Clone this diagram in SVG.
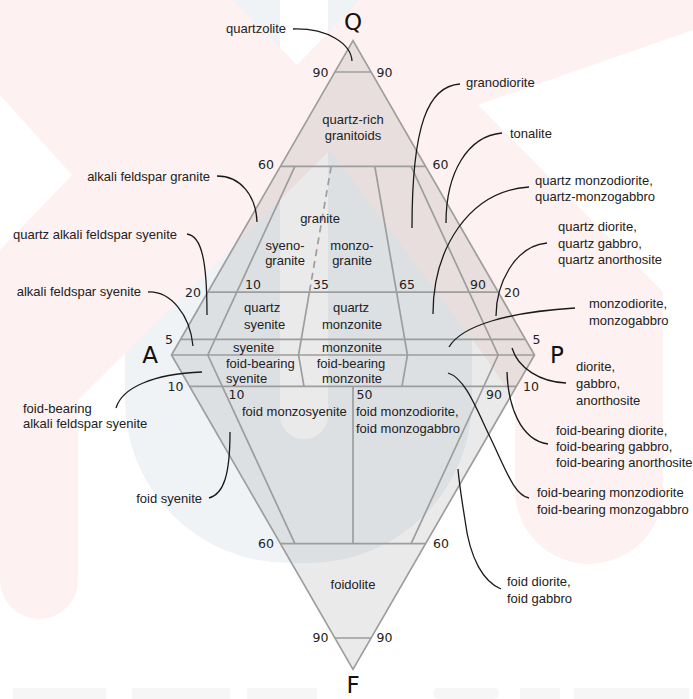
<svg xmlns="http://www.w3.org/2000/svg" width="693" height="699" viewBox="0 0 693 699">
<style>
.ln{fill:none;stroke:#9d9d9d;stroke-width:1.7}
.dash{stroke-dasharray:7 5}
.ld{fill:none;stroke:#1a1a1a;stroke-width:1.3}
.t{font-family:"Liberation Sans",Arial,sans-serif;font-size:13px;fill:#222}
.n{font-family:"DejaVu Sans",sans-serif;font-size:12.5px;fill:#222}
.c{font-family:"DejaVu Sans",sans-serif;font-size:23px;fill:#111}
.m{text-anchor:middle}
.e{text-anchor:end}
</style>
<g id="background">
<rect width="693" height="699" fill="#ffffff"/>
<path d="M125,0 H472 V400 A163,163 0 0 1 309,563 H288 A163,163 0 0 1 125,400 Z M280,0 V415 A24,24 0 0 0 328,415 V0 Z" fill-rule="evenodd" fill="#eff3f6"/>
<path d="M0,0 H233 L297,65 L360,0 H693 V30 L478,105 L663,292 V490 A74,74 0 0 1 515,490 V400 L480,350 L330,150 L78,400 V580 A39,39 0 0 1 0,580 V250 L72,175 L0,95 Z" fill="#fdf1f1"/>
<g fill="#f6f6f6">
<rect x="13" y="688" width="93" height="11"/>
<rect x="132" y="688" width="98" height="11"/>
<rect x="247" y="688" width="70" height="11"/>
<rect x="433" y="688" width="66" height="11" rx="5"/>
<rect x="520" y="688" width="40" height="11"/>
<rect x="574" y="688" width="115" height="11"/>
</g>
</g>
<g id="diagram">
<path d="M353,40.6 L534.5,355 L353,669.4 L171.5,355 Z" fill="#7f7f7f" fill-opacity="0.16" stroke="none"/>
<path class="ln" d="M353,40.6 L534.5,355 L353,669.4 L171.5,355 Z"/>
<path class="ln" d="M334.85,72 H371.15 M280.4,166.4 H425.6 M207.8,292.1 H498.2 M180.6,339.3 H525.4 M171.5,355 H534.5 M189.65,386.4 H516.35 M280.4,543.6 H425.6 M334.85,638 H371.15"/>
<path class="ln" d="M294.9,166.4 L207.8,355 L294.9,543.6 M309.4,292.1 L298.55,355 L304,386.4 M374.8,166.4 L407.45,355 L402,386.4 M411.1,166.4 L498.2,355 L411.1,543.6 M353,386.4 V543.6"/>
<path class="ln dash" d="M331.2,166.4 L309.4,292.1"/>
</g>
<g id="corners">
<text class="c m" x="353" y="30">Q</text>
<text class="c m" x="150" y="363">A</text>
<text class="c m" x="557" y="363">P</text>
<text class="c m" x="353" y="693">F</text>
</g>
<g id="scale">
<text class="n e" x="328.5" y="77">90</text>
<text class="n" x="376.5" y="77">90</text>
<text class="n e" x="274" y="169">60</text>
<text class="n" x="432.5" y="169">60</text>
<text class="n e" x="201" y="297">20</text>
<text class="n" x="504" y="297">20</text>
<text class="n e" x="173" y="344">5</text>
<text class="n" x="532.5" y="344">5</text>
<text class="n" x="245" y="289">10</text>
<text class="n" x="313" y="289">35</text>
<text class="n" x="399" y="289">65</text>
<text class="n" x="470" y="289">90</text>
<text class="n e" x="183.5" y="391">10</text>
<text class="n" x="523" y="391">10</text>
<text class="n" x="228.5" y="398.5">10</text>
<text class="n" x="356.5" y="398.5">50</text>
<text class="n" x="486" y="399">90</text>
<text class="n e" x="274" y="548">60</text>
<text class="n" x="433" y="548">60</text>
<text class="n e" x="328.5" y="642">90</text>
<text class="n" x="376.5" y="642">90</text>
</g>
<g id="fields">
<text class="t m" x="353" y="123.5">quartz-rich</text>
<text class="t m" x="353" y="139.5">granitoids</text>
<text class="t m" x="320" y="223">granite</text>
<text class="t m" x="285" y="249.5">syeno-</text>
<text class="t m" x="285" y="264.5">granite</text>
<text class="t m" x="352" y="249.5">monzo-</text>
<text class="t m" x="352" y="264.5">granite</text>
<text class="t" x="244" y="311.5">quartz</text>
<text class="t" x="244" y="328.5">syenite</text>
<text class="t m" x="351" y="311.5">quartz</text>
<text class="t m" x="352" y="328.5">monzonite</text>
<text class="t" x="233" y="352">syenite</text>
<text class="t m" x="352" y="352">monzonite</text>
<text class="t" x="226" y="368">foid-bearing</text>
<text class="t" x="226" y="383">syenite</text>
<text class="t m" x="351" y="368">foid-bearing</text>
<text class="t m" x="352" y="383">monzonite</text>
<text class="t" x="242" y="416">foid monzosyenite</text>
<text class="t" x="356" y="416">foid monzodiorite,</text>
<text class="t" x="356" y="433">foid monzogabbro</text>
<text class="t m" x="353" y="588.5">foidolite</text>
</g>
<g id="labels">
<text class="t e" x="286" y="33">quartzolite</text>
<text class="t" x="466" y="87">granodiorite</text>
<text class="t" x="510" y="137.5">tonalite</text>
<text class="t" x="535" y="184.5">quartz monzodiorite,</text>
<text class="t" x="535" y="201">quartz-monzogabbro</text>
<text class="t" x="558" y="231">quartz diorite,</text>
<text class="t" x="558" y="248">quartz gabbro,</text>
<text class="t" x="558" y="264">quartz anorthosite</text>
<text class="t" x="589" y="308">monzodiorite,</text>
<text class="t" x="589" y="324.5">monzogabbro</text>
<text class="t" x="576" y="371">diorite,</text>
<text class="t" x="576" y="388">gabbro,</text>
<text class="t" x="576" y="405">anorthosite</text>
<text class="t" x="556" y="435">foid-bearing diorite,</text>
<text class="t" x="556" y="451">foid-bearing gabbro,</text>
<text class="t" x="556" y="467">foid-bearing anorthosite</text>
<text class="t" x="537" y="497">foid-bearing monzodiorite</text>
<text class="t" x="537" y="513.5">foid-bearing monzogabbro</text>
<text class="t" x="507" y="586">foid diorite,</text>
<text class="t" x="507" y="602.5">foid gabbro</text>
<text class="t e" x="210" y="180.5">alkali feldspar granite</text>
<text class="t e" x="177" y="238.5">quartz alkali feldspar syenite</text>
<text class="t e" x="141" y="296">alkali feldspar syenite</text>
<text class="t" x="23" y="412.5">foid-bearing</text>
<text class="t" x="23" y="428">alkali feldspar syenite</text>
<text class="t e" x="202" y="503">foid syenite</text>
</g>
<g id="connectors">
<path class="ld" d="M293,29 C328,28 351,44 352,61"/>
<path class="ld" d="M460,84 C428,86 412,125 412,228"/>
<path class="ld" d="M502,133 C468,136 446,172 446,223"/>
<path class="ld" d="M529,187 C468,191 433,250 433,314"/>
<path class="ld" d="M547,243 C514,246 496,285 496,316"/>
<path class="ld" d="M575,308 C510,312 462,325 449,347"/>
<path class="ld" d="M566,383 C540,382 518,368 512,348"/>
<path class="ld" d="M548,444 C520,440 508,405 507,372"/>
<path class="ld" d="M529,498 C514,495 506,470 490,437 C476,408 465,378 448,373"/>
<path class="ld" d="M501,589 C484,582 470,560 465,520 C461,495 459,482 458,469"/>
<path class="ld" d="M217,176 C240,176 256,195 257,222"/>
<path class="ld" d="M187,234 C202,236 207,262 207,315"/>
<path class="ld" d="M148,292 C170,291 190,314 193,346"/>
<path class="ld" d="M116,408 C122,388 152,374 202,372"/>
<path class="ld" d="M209,498 C224,494 230,474 230,432"/>
</g>
</svg>
